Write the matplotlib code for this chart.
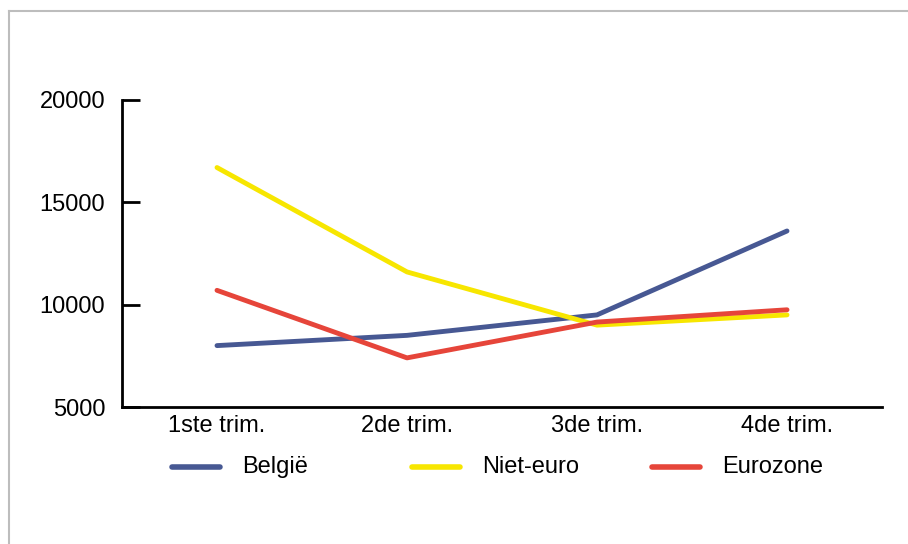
import matplotlib
matplotlib.use("Agg")
from matplotlib import pyplot as plt
from matplotlib.lines import Line2D

plt.rcParams['font.family'] = ['Liberation Sans', 'DejaVu Sans']

# categories and series
quarters = ["1ste trim.", "2de trim.", "3de trim.", "4de trim."]
belgie = [8000, 8500, 9500, 13600]
niet_euro = [16700, 11600, 9000, 9500]
eurozone = [10700, 7400, 9150, 9750]
y_ticks = [5000, 10000, 15000, 20000]

W, H = 908, 544
fig = plt.figure(figsize=(W / 100, H / 100), dpi=100)

# grey frame (top and left edges only visible)
fig.add_artist(Line2D([9 / W, 1], [1 - 11 / H, 1 - 11 / H], color="#bdbdbd", lw=1.5))
fig.add_artist(Line2D([9 / W, 9 / W], [0, 1 - 11 / H], color="#bdbdbd", lw=1.5))

ax = fig.add_axes([122 / W, 1 - 407 / H, (882 - 122) / W, (407 - 100) / H])

x = list(range(len(quarters)))
lines = []
lines += ax.plot(x, belgie, color="#475893", lw=3.5, solid_capstyle="round", label="België")
lines += ax.plot(x, niet_euro, color="#f7e600", lw=3.5, solid_capstyle="round", label="Niet-euro")
lines += ax.plot(x, eurozone, color="#e6453a", lw=3.5, solid_capstyle="round", label="Eurozone")

ax.set_xlim(-0.5, 3.5)
ax.set_ylim(5000, 20000)
ax.set_xticks(x)
ax.set_xticklabels(quarters)
ax.set_yticks(y_ticks)
ax.set_yticklabels([str(v) for v in y_ticks])

for side in ["top", "right"]:
    ax.spines[side].set_visible(False)
for side in ["left", "bottom"]:
    ax.spines[side].set_linewidth(2)
    ax.spines[side].set_color("black")

ax.tick_params(axis="y", direction="in", length=13, width=2, labelsize=17, pad=12)
ax.tick_params(axis="x", length=0, labelsize=17, pad=6)

# legend row under the axes, spaced like the original
leg_y = 1 - 467 / H
for i, ln in enumerate(lines):
    x0 = 172 + i * 240
    fig.add_artist(Line2D([x0 / W, (x0 + 48) / W], [leg_y, leg_y], color=ln.get_color(),
                          lw=4, solid_capstyle="round"))
    fig.text((x0 + 70) / W, leg_y, ln.get_label(), fontsize=17, va="center", ha="left")

fig.savefig("out.png", dpi=100)
